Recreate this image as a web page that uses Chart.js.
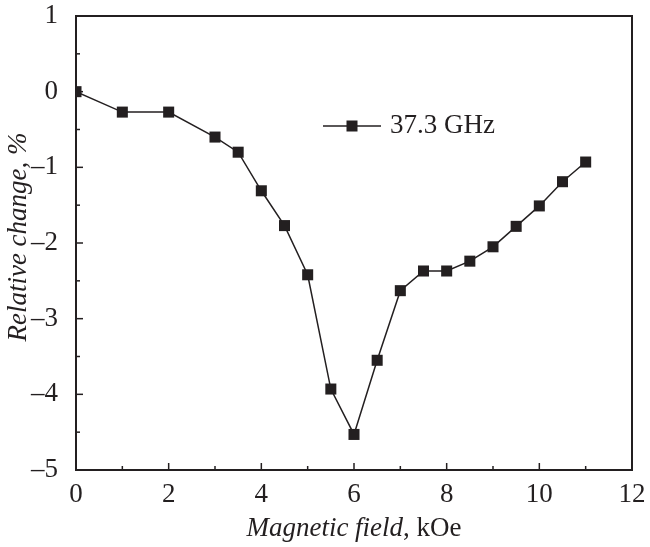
<!DOCTYPE html>
<html>
<head>
<meta charset="utf-8">
<script src="https://cdn.jsdelivr.net/npm/chart.js@4"></script>
<style>
html,body{margin:0;padding:0;background:#fff;}
#wrap{width:650px;height:547px;}
</style>
</head>
<body>
<div id="wrap"><canvas id="c" width="650" height="547"></canvas></div>
<script>
const fieldKOe = [0, 1, 2, 3, 3.5, 4, 4.5, 5, 5.5, 6, 6.5, 7, 7.5, 8, 8.5, 9, 9.5, 10, 10.5, 11];
const relChange = [0, -0.27, -0.27, -0.6, -0.8, -1.31, -1.77, -2.42, -3.93, -4.53, -3.55, -2.63, -2.37, -2.37, -2.24, -2.05, -1.78, -1.51, -1.19, -0.93];
const seriesLabel = '37.3 GHz';
const xTitleItalic = 'Magnetic field';
const xTitleRoman = ', kOe';
const yTitle = 'Relative change, %';
const xMajorTicks = [0, 2, 4, 6, 8, 10, 12];
const xMinorTicks = [1, 3, 5, 7, 9, 11];
const yMajorTicks = [-5, -4, -3, -2, -1, 0, 1];
const yMinorTicks = [-4.5, -3.5, -2.5, -1.5, -0.5, 0.5];

const INK = '#231f20';
const FONT = '"Liberation Serif", "Times New Roman", Times, serif';

const decor = {
  id: 'decor',
  afterDraw(chart) {
    const ctx = chart.ctx;
    const a = chart.chartArea;
    const xs = chart.scales.x, ys = chart.scales.y;
    ctx.save();
    ctx.strokeStyle = INK;
    ctx.lineWidth = 1.5;
    const tick = (x1, y1, x2, y2) => { ctx.beginPath(); ctx.moveTo(x1, y1); ctx.lineTo(x2, y2); ctx.stroke(); };
    xMajorTicks.forEach(v => { const p = xs.getPixelForValue(v); tick(p, a.bottom, p, a.bottom - 7); });
    xMinorTicks.forEach(v => { const p = xs.getPixelForValue(v); tick(p, a.bottom, p, a.bottom - 4); });
    yMajorTicks.forEach(v => { const p = ys.getPixelForValue(v); tick(a.left, p, a.left + 7, p); });
    yMinorTicks.forEach(v => { const p = ys.getPixelForValue(v); tick(a.left, p, a.left + 4, p); });
    ctx.lineWidth = 2;
    ctx.strokeRect(a.left, a.top, a.right - a.left, a.bottom - a.top);

    // legend
    const ly = 126, lx1 = 323, lx2 = 381;
    ctx.lineWidth = 1.5;
    tick(lx1, ly, lx2, ly);
    ctx.fillStyle = INK;
    const s = 11;
    ctx.fillRect((lx1 + lx2) / 2 - s / 2, ly - s / 2, s, s);
    ctx.font = '27px ' + FONT;
    ctx.textBaseline = 'middle';
    ctx.textAlign = 'left';
    ctx.fillText(seriesLabel, 390, ly);

    // x title
    ctx.font = 'italic 27px ' + FONT;
    const w1 = ctx.measureText(xTitleItalic).width;
    ctx.font = '27px ' + FONT;
    const w2 = ctx.measureText(xTitleRoman).width;
    const cx = (a.left + a.right) / 2;
    const x0 = cx - (w1 + w2) / 2;
    const ty = 529;
    ctx.font = 'italic 27px ' + FONT;
    ctx.fillText(xTitleItalic, x0, ty);
    ctx.font = '27px ' + FONT;
    ctx.fillText(xTitleRoman, x0 + w1, ty);

    // y title
    ctx.save();
    ctx.translate(19, (a.top + a.bottom) / 2 - 6);
    ctx.rotate(-Math.PI / 2);
    ctx.font = 'italic 27px ' + FONT;
    ctx.textAlign = 'center';
    ctx.textBaseline = 'middle';
    ctx.fillText(yTitle, 0, 0);
    ctx.restore();
    ctx.restore();
  }
};

function draw() {
  new Chart(document.getElementById('c'), {
    type: 'line',
    data: {
      datasets: [{
        label: seriesLabel,
        data: fieldKOe.map((x, i) => ({ x: x, y: relChange[i] })),
        borderColor: INK,
        backgroundColor: INK,
        borderWidth: 1.5,
        pointStyle: 'rect',
        pointRadius: 7.8,
        pointBorderWidth: 0,
        pointBackgroundColor: INK,
        tension: 0
      }]
    },
    options: {
      responsive: false,
      animation: false,
      devicePixelRatio: 1,
      layout: { padding: { top: 16, right: 18, left: 0, bottom: 0 } },
      plugins: { legend: { display: false }, tooltip: { enabled: false } },
      scales: {
        x: {
          type: 'linear',
          min: 0, max: 12,
          grid: { display: false },
          border: { display: false },
          afterFit(s) { s.height = 77; s.paddingLeft = 0; s.paddingRight = 0; },
          afterBuildTicks(s) { s.ticks = xMajorTicks.map(v => ({ value: v })); },
          ticks: {
            color: INK,
            padding: 1,
            maxRotation: 0,
            font: { family: FONT, size: 27 },
            callback: v => String(v)
          }
        },
        y: {
          type: 'linear',
          min: -5, max: 1,
          grid: { display: false },
          border: { display: false },
          afterFit(s) { s.width = 76; s.paddingTop = 0; s.paddingBottom = 0; },
          afterBuildTicks(s) { s.ticks = yMajorTicks.map(v => ({ value: v })); },
          ticks: {
            color: INK,
            padding: 10,
            font: { family: FONT, size: 27 },
            callback: v => (v < 0 ? '\u2013' + Math.abs(v) : String(v))
          }
        }
      }
    },
    plugins: [decor]
  });
}

Promise.all([
  document.fonts.load('27px "Liberation Serif"'),
  document.fonts.load('italic 27px "Liberation Serif"')
]).then(draw, draw);
</script>
</body>
</html>
